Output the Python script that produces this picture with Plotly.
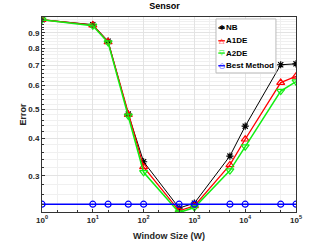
import plotly.graph_objects as go

window = [1, 10, 20, 50, 100, 500, 1000, 5000, 10000, 50000, 100000]
nb = [0.995, 0.958, 0.844, 0.482, 0.334, 0.234, 0.243, 0.349, 0.439, 0.704, 0.709]
a1de = [0.995, 0.955, 0.840, 0.480, 0.321, 0.229, 0.238, 0.326, 0.397, 0.614, 0.644]
a2de = [0.995, 0.950, 0.835, 0.475, 0.308, 0.226, 0.235, 0.312, 0.375, 0.575, 0.618]
best = [0.241] * 11

series_names = ["NB", "A1DE", "A2DE", "Best Method"]
series_colors = ["black", "#ff0000", "#11ee11", "#0000ff"]
series_symbols = ["asterisk-open", "triangle-up-open", "triangle-down-open", "circle-open"]
legend_glyphs = ["✱", "△", "▽", "○"]

xtick_vals = [1, 10, 100, 1000, 10000, 100000]
xtick_text = ["10<sup>0</sup>", "10<sup>1</sup>", "10<sup>2</sup>", "10<sup>3</sup>", "10<sup>4</sup>", "10<sup>5</sup>"]
ytick_vals = [0.3, 0.4, 0.5, 0.6, 0.7, 0.8, 0.9]
ytick_text = ["0.3", "0.4", "0.5", "0.6", "0.7", "0.8", "0.9"]

FONT = "Liberation Sans, Arial"

fig = go.Figure()
for vals, name, col, sym, lw in zip([nb, a1de, a2de, best], series_names, series_colors,
                                    series_symbols, [1, 1.3, 1.5, 1.5]):
    tri = sym.startswith("triangle")
    fig.add_trace(go.Scatter(x=window, y=vals, name=name, mode="lines+markers",
                             line=dict(color=col, width=lw),
                             marker=dict(symbol=sym, size=7 if tri else 6,
                                         color=col, line=dict(width=1.2, color=col)),
                             showlegend=False))

# custom compact legend (MATLAB style)
shapes = [dict(type="rect", xref="paper", yref="paper", x0=0.685, x1=0.921, y0=0.713, y1=0.990,
               fillcolor="white", line=dict(color="#bbbbbb", width=1), layer="above")]
annotations = []
entry_y = [0.944, 0.878, 0.815, 0.750]
for ey, name, col, glyph in zip(entry_y, series_names, series_colors, legend_glyphs):
    shapes.append(dict(type="line", xref="paper", yref="paper", x0=0.694, x1=0.720, y0=ey, y1=ey,
                       line=dict(color=col, width=1.3), layer="above"))
    annotations.append(dict(xref="paper", yref="paper", x=0.707, y=ey, text=glyph, showarrow=False,
                            xanchor="center", yanchor="middle",
                            font=dict(family="DejaVu Sans", size=7, color=col)))
    annotations.append(dict(xref="paper", yref="paper", x=0.716, y=ey, text=name, showarrow=False,
                            xanchor="left", yanchor="middle",
                            font=dict(family=FONT, size=8, color="black", weight="bold")))

fig.update_layout(
    width=327, height=245,
    margin=dict(l=42, r=31, t=17, b=33),
    paper_bgcolor="white", plot_bgcolor="white",
    font=dict(family=FONT, size=8, color="#262626", weight="bold"),
    title=dict(text="Sensor", x=0.503, xanchor="center", y=0.99, yanchor="top",
               font=dict(family=FONT, size=9, color="black", weight="bold")),
    showlegend=False,
    shapes=shapes,
    annotations=annotations,
    xaxis=dict(type="log", range=[0, 5], tickvals=xtick_vals, ticktext=xtick_text,
               showline=True, linecolor="#333333", linewidth=1, mirror=True,
               ticks="inside", ticklen=3, tickcolor="#333333",
               showgrid=True, gridcolor="#e3e3e3", gridwidth=1,
               minor=dict(showgrid=True, gridcolor="#f0f0f0", ticks="inside", ticklen=2),
               zeroline=False, automargin=False,
               title=dict(text="Window Size (W)", standoff=9, font=dict(family=FONT, size=9, weight="bold")),
               tickfont=dict(family=FONT, size=8)),
    yaxis=dict(type="log", range=[-0.644, 0.007], tickvals=ytick_vals, ticktext=ytick_text,
               showline=True, linecolor="#333333", linewidth=1, mirror=True,
               ticks="inside", ticklen=3, tickcolor="#333333",
               showgrid=True, gridcolor="#e3e3e3", gridwidth=1,
               minor=dict(showgrid=True, gridcolor="#f0f0f0", ticks="inside", ticklen=2),
               zeroline=False, automargin=False,
               title=dict(text="Error", standoff=0, font=dict(family=FONT, size=9, weight="bold")),
               tickfont=dict(family=FONT, size=8)),
)

fig.write_html("out.html", config={"displayModeBar": False},
               post_script="document.body.style.margin='0';")
